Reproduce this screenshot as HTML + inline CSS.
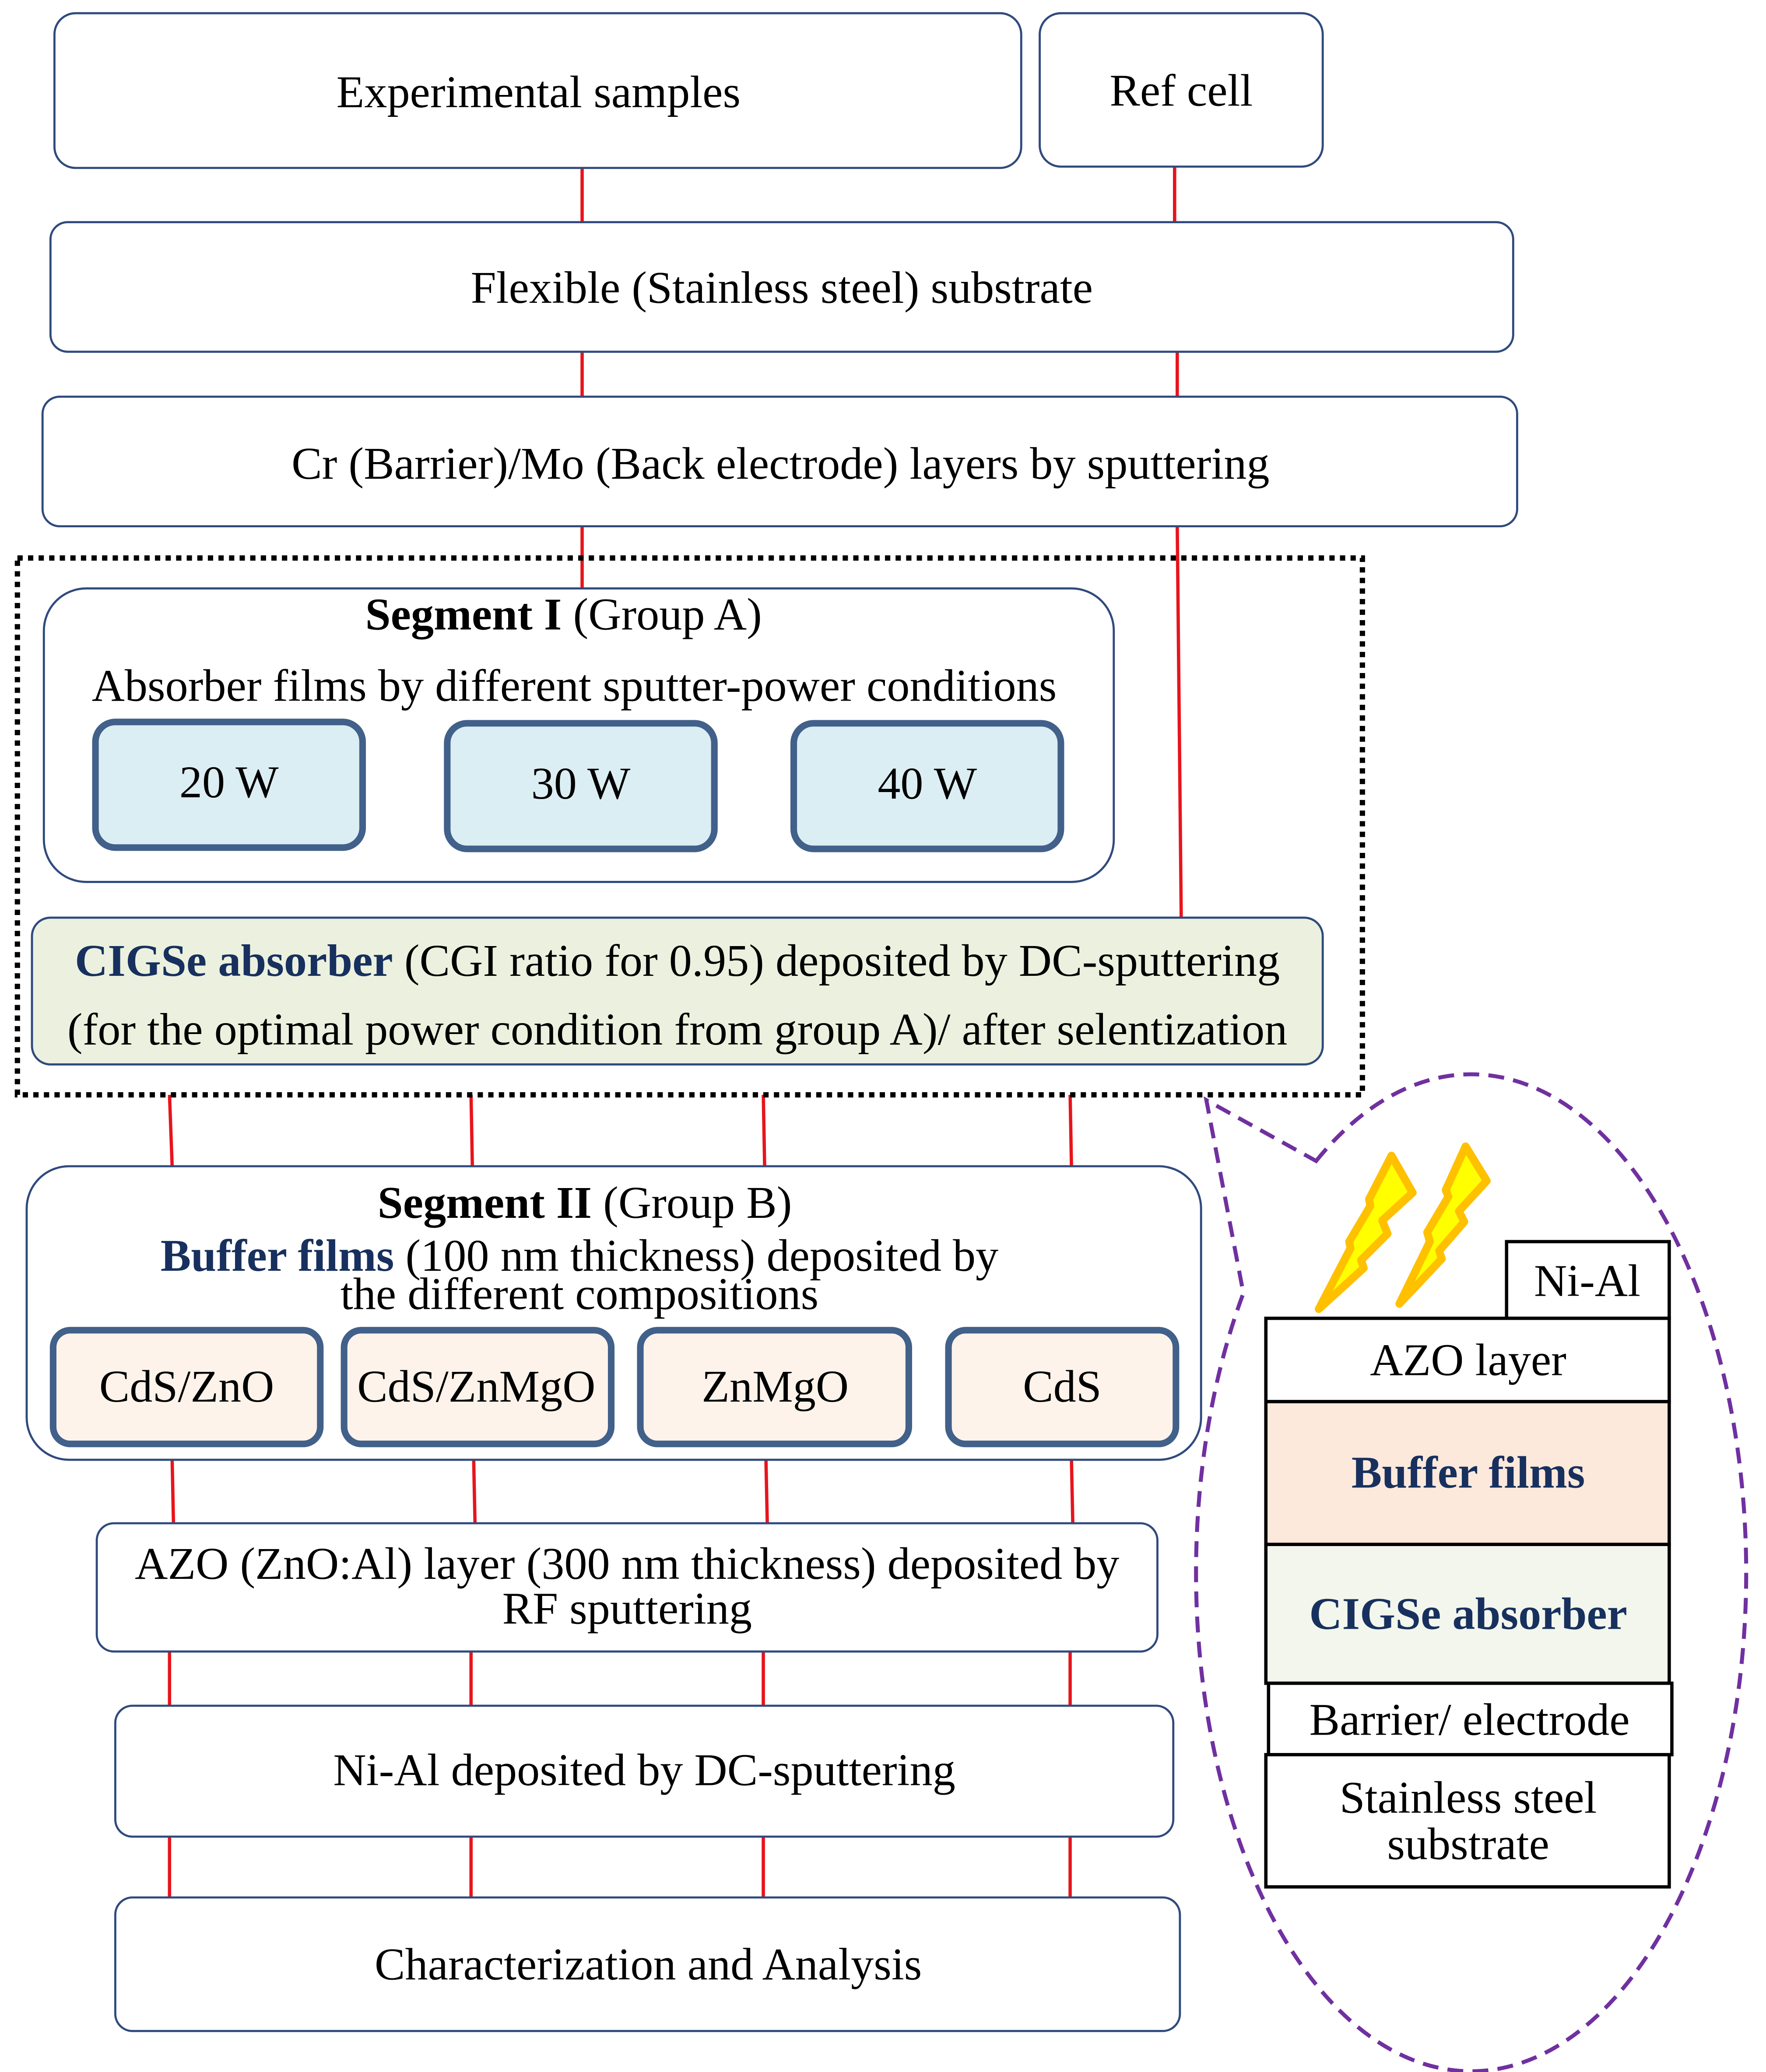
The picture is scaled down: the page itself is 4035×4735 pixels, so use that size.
<!DOCTYPE html>
<html><head><meta charset="utf-8"><style>
html,body{margin:0;padding:0;background:#fff;}
svg{display:block;}
text{font-family:"Liberation Serif",serif;}
</style></head><body>
<svg width="4035" height="4735" viewBox="0 0 1335 1567" xmlns="http://www.w3.org/2000/svg">
<rect width="1335" height="1567" fill="#fff"/>
<g stroke="#e8141c" stroke-width="2.5">
<line x1="440" y1="127" x2="440" y2="168"/><line x1="888" y1="126" x2="888" y2="168"/>
<line x1="440" y1="266" x2="440" y2="300"/><line x1="890" y1="266" x2="890" y2="300"/>
<line x1="440" y1="398" x2="440" y2="445"/><line x1="890" y1="398" x2="893" y2="694"/>
<line x1="128" y1="828" x2="130" y2="882"/><line x1="356" y1="828" x2="357" y2="882"/><line x1="577" y1="828" x2="578" y2="882"/><line x1="809" y1="828" x2="810" y2="882"/>
<line x1="130" y1="1104" x2="131" y2="1152"/><line x1="358" y1="1104" x2="359" y2="1152"/><line x1="579" y1="1104" x2="580" y2="1152"/><line x1="810" y1="1104" x2="811" y2="1152"/>
<line x1="128" y1="1249" x2="128" y2="1290"/><line x1="356" y1="1249" x2="356" y2="1290"/><line x1="577" y1="1249" x2="577" y2="1290"/><line x1="809" y1="1249" x2="809" y2="1290"/>
<line x1="128" y1="1389" x2="128" y2="1435"/><line x1="356" y1="1389" x2="356" y2="1435"/><line x1="577" y1="1389" x2="577" y2="1435"/><line x1="809" y1="1389" x2="809" y2="1435"/>
</g>
<g fill="#fff" stroke="#2f4a7d" stroke-width="1.6">
<rect x="41" y="10" width="731" height="117" rx="16"/>
<rect x="786" y="10" width="214" height="116" rx="16"/>
<rect x="38" y="168" width="1106" height="98" rx="13"/>
<rect x="32" y="300" width="1115" height="98" rx="13"/>
<rect x="33" y="445" width="809" height="222" rx="32"/>
<rect x="24" y="694" width="976" height="111" rx="14" fill="#ebf1de"/>
<rect x="20" y="882" width="888" height="222" rx="32"/>
<rect x="73" y="1152" width="802" height="97" rx="13"/>
<rect x="87" y="1290" width="800" height="99" rx="13"/>
<rect x="87" y="1435" width="805" height="101" rx="13"/>
</g>
<rect x="13" y="422" width="1017" height="406" fill="none" stroke="#000" stroke-width="4" stroke-dasharray="4,4"/>
<g fill="#dbeef3" stroke="#41608a" stroke-width="5">
<rect x="72" y="546" width="202" height="95" rx="15"/>
<rect x="338" y="547" width="202" height="95" rx="15"/>
<rect x="600" y="547" width="202" height="95" rx="15"/>
</g>
<g fill="#fdf3ea" stroke="#41608a" stroke-width="5">
<rect x="40" y="1006" width="202" height="86" rx="13"/>
<rect x="260" y="1006" width="202" height="86" rx="13"/>
<rect x="484" y="1006" width="203" height="86" rx="13"/>
<rect x="717" y="1006" width="172" height="86" rx="13"/>
</g>
<path d="M995,878 A208,377 0 1 1 940,978 L912,832 Z" fill="none" stroke="#7030a0" stroke-width="3" stroke-dasharray="12,7"/>
<g fill="#ffff00" stroke="#ffc000" stroke-width="6" stroke-linejoin="round">
<path d="M1052,874 L1068,902 L1045,923 L1049,933 L1029,953 L1031,959 L997,990 L1021,944 L1020,939 L1036,912 L1035,907 Z"/>
<path d="M1108,867 L1124,893 L1103,916 L1107,924 L1088,946 L1090,952 L1058,986 L1081,939 L1079,932 L1095,905 L1093,900 Z"/>
</g>
<g stroke="#000" stroke-width="2.5">
<rect x="1139" y="939" width="123" height="58" fill="#fff"/>
<rect x="957" y="997" width="305" height="63" fill="#fff"/>
<rect x="957" y="1060" width="305" height="108" fill="#fce9db"/>
<rect x="957" y="1168" width="305" height="105" fill="#f2f6ec"/>
<rect x="959" y="1273" width="305" height="54" fill="#fff"/>
<rect x="957" y="1327" width="305" height="100" fill="#fff"/>
</g>
<g font-size="34.5" text-anchor="middle" fill="#000">
<text x="407" y="81">Experimental samples</text>
<text x="893" y="80">Ref cell</text>
<text x="591" y="229">Flexible (Stainless steel) substrate</text>
<text x="590" y="362">Cr (Barrier)/Mo (Back electrode) layers by sputtering</text>
<text x="426" y="476"><tspan font-weight="bold">Segment I</tspan> (Group A)</text>
<text x="434" y="530">Absorber films by different sputter-power conditions</text>
<text x="173" y="603">20 W</text>
<text x="439" y="604">30 W</text>
<text x="701" y="604">40 W</text>
<text x="512" y="738"><tspan font-weight="bold" fill="#17305e">CIGSe absorber</tspan> (CGI ratio for 0.95) deposited by DC-sputtering</text>
<text x="512" y="790">(for the optimal power condition from group A)/ after selentization</text>
<text x="442" y="921"><tspan font-weight="bold">Segment II</tspan> (Group B)</text>
<text x="438" y="961"><tspan font-weight="bold" fill="#17305e">Buffer films</tspan> (100 nm thickness) deposited by</text>
<text x="438" y="990">the different compositions</text>
<text x="141" y="1060">CdS/ZnO</text>
<text x="360" y="1060">CdS/ZnMgO</text>
<text x="586" y="1060">ZnMgO</text>
<text x="803" y="1060">CdS</text>
<text x="474" y="1194">AZO (ZnO:Al) layer (300 nm thickness) deposited by</text>
<text x="474" y="1228">RF sputtering</text>
<text x="487" y="1350">Ni-Al deposited by DC-sputtering</text>
<text x="490" y="1497">Characterization and Analysis</text>
<text x="1200" y="980">Ni-Al</text>
<text x="1110" y="1040">AZO layer</text>
<text x="1110" y="1125" font-weight="bold" fill="#17305e">Buffer films</text>
<text x="1110" y="1232" font-weight="bold" fill="#17305e">CIGSe absorber</text>
<text x="1111" y="1312">Barrier/ electrode</text>
<text x="1110" y="1371">Stainless steel</text>
<text x="1110" y="1406">substrate</text>
</g>
</svg>
</body></html>
